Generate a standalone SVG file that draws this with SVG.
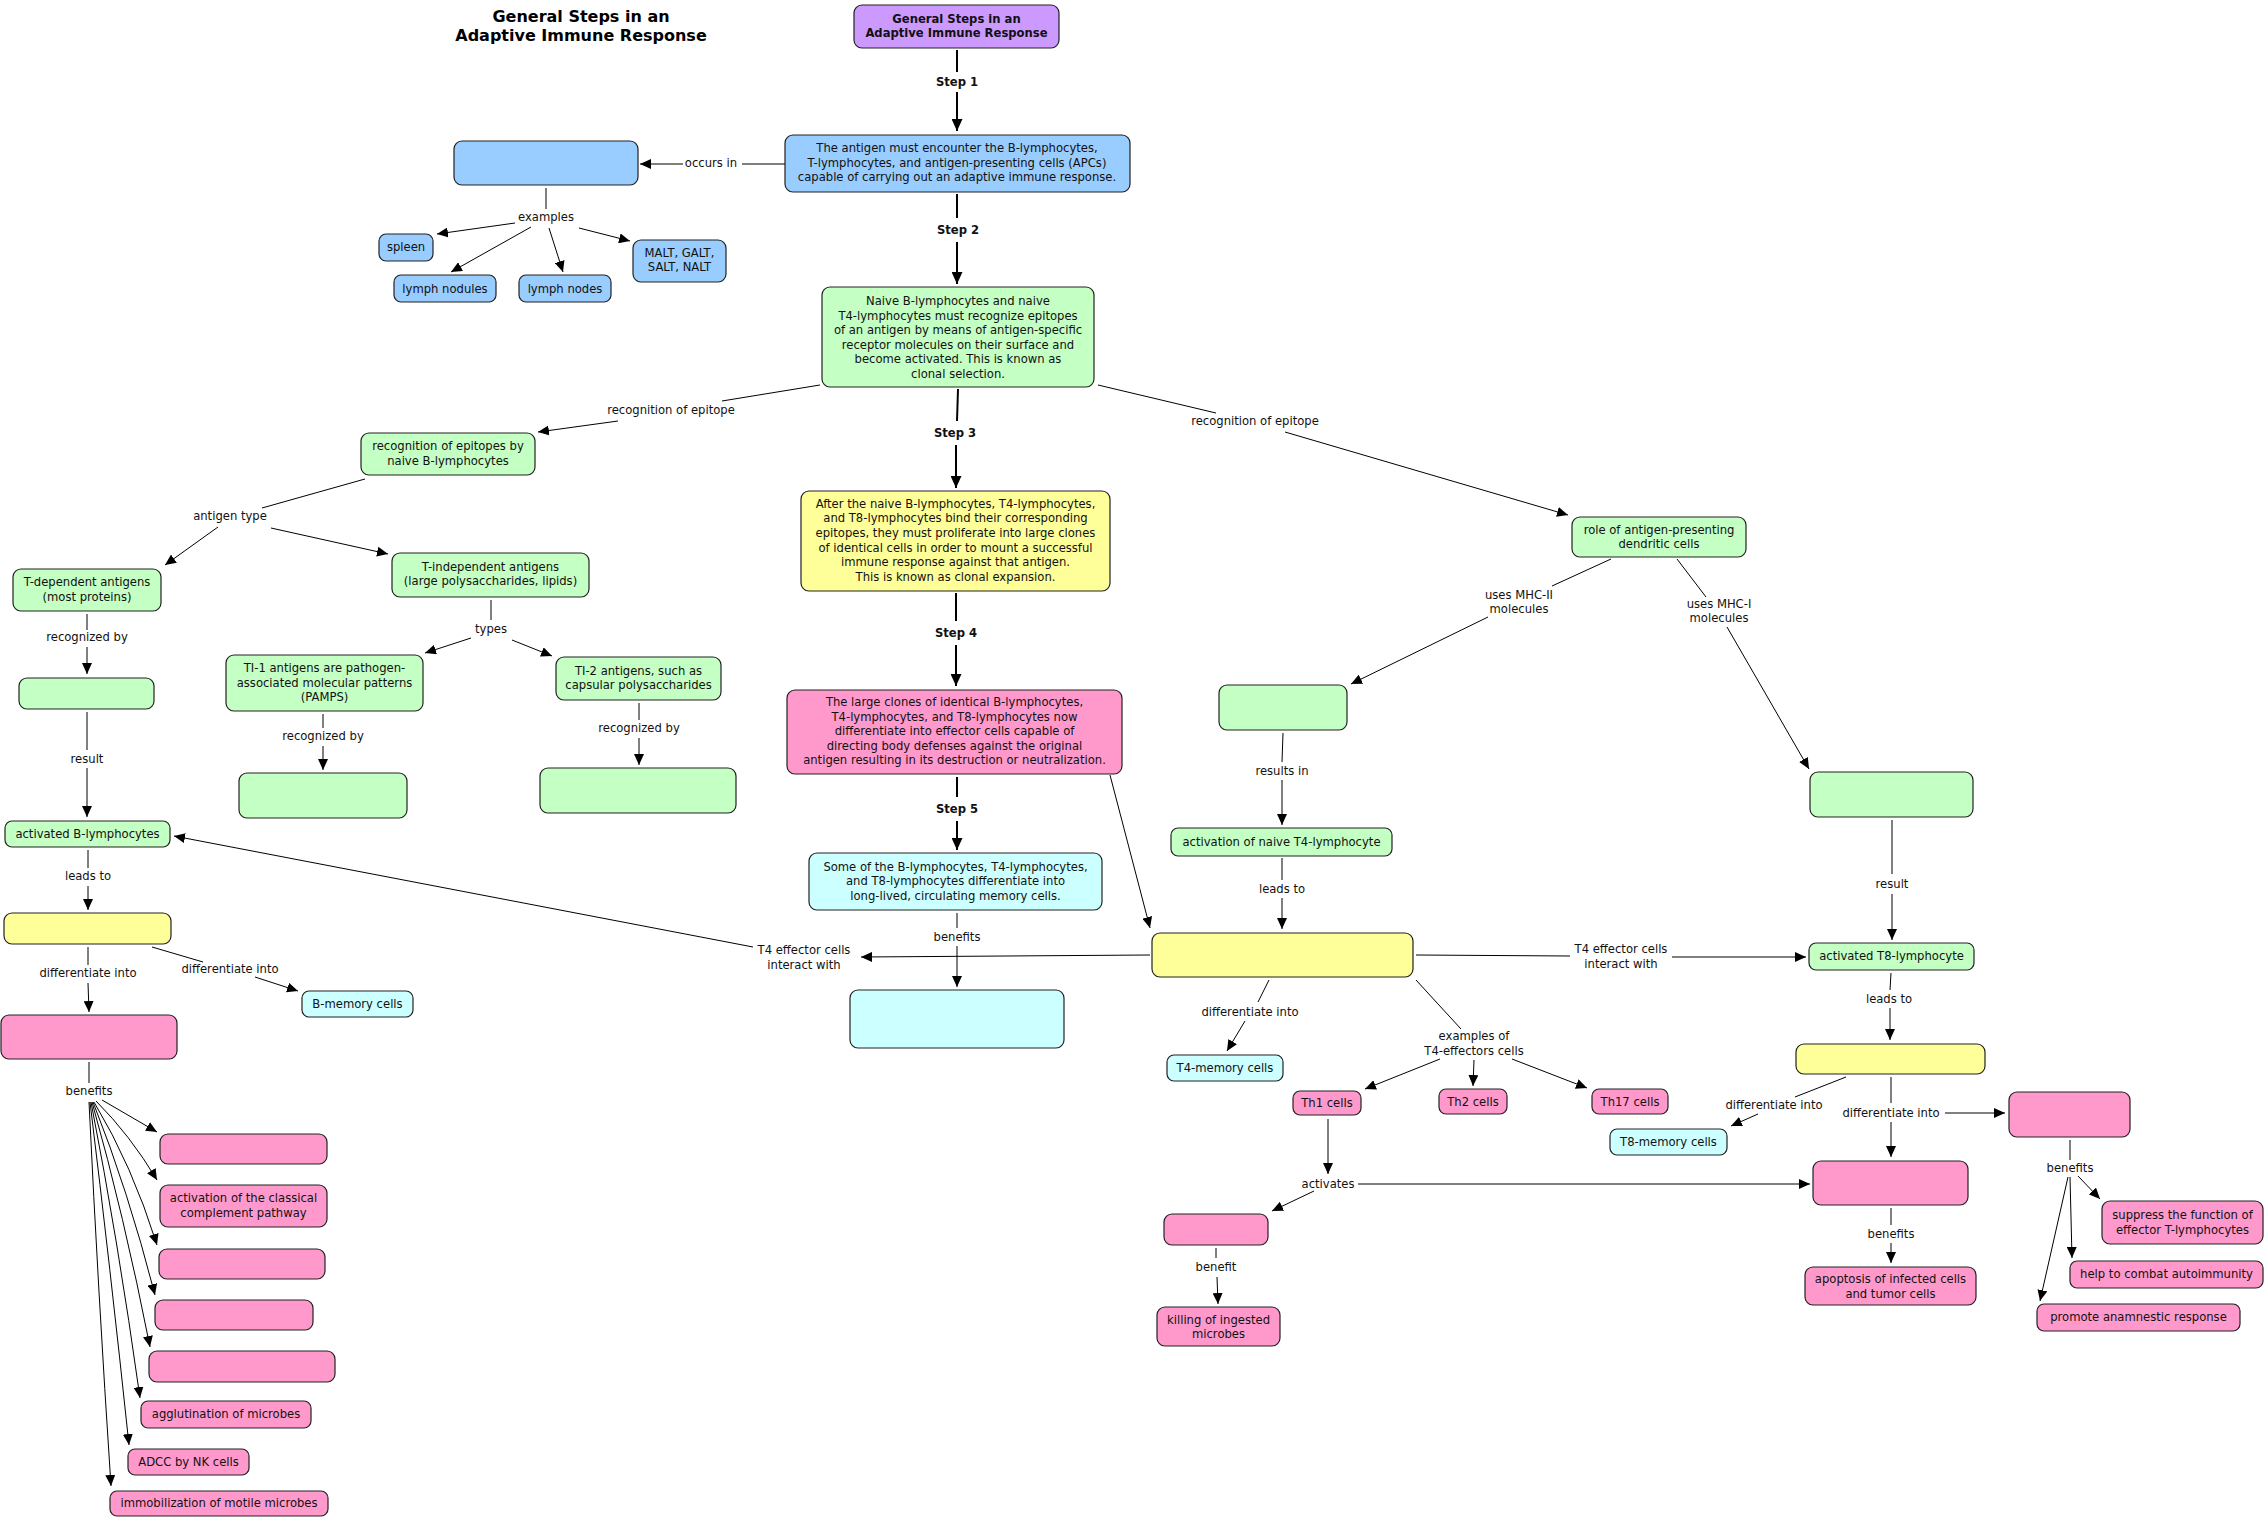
<svg xmlns="http://www.w3.org/2000/svg" width="2266" height="1518" viewBox="0 0 2266 1518">
<defs>
<style>
text{font-family:"DejaVu Sans",Verdana,sans-serif;font-size:11.6px;fill:#111;text-anchor:middle}
.t{font-size:16px;font-weight:bold;fill:#000}
.b{font-weight:bold}
g rect{stroke:#222;stroke-width:1.2}
.bl{fill:#99CCFF}.gr{fill:#C4FFC4}.ye{fill:#FFFF99}.pk{fill:#FF99CC}.cy{fill:#CCFFFF}.pu{fill:#CC99FF}
.l{stroke:#000;stroke-width:1;fill:none}
.a{marker-end:url(#ah)}
.s{stroke-width:2}
.sa{marker-end:url(#sh)}
</style>
<marker id="ah" viewBox="0 0 11 10" refX="11" refY="5" markerWidth="11" markerHeight="10" orient="auto" markerUnits="userSpaceOnUse"><path d="M0,0 L11,5 L0,10 z" fill="#000"/></marker>
<marker id="sh" viewBox="0 0 12 11" refX="12" refY="5.5" markerWidth="12" markerHeight="11" orient="auto" markerUnits="userSpaceOnUse"><path d="M0,0 L12,5.5 L0,11 z" fill="#000"/></marker>
</defs>
<rect x="0" y="0" width="2266" height="1518" fill="#fff"/>

<g id="title"><text class="t" x="581" y="22">General Steps in an</text><text class="t" x="581" y="41">Adaptive Immune Response</text></g>

<g id="connectors">
<!-- steps -->
<line class="l s" x1="957" y1="50" x2="957" y2="72"/><line class="l s sa" x1="957" y1="92" x2="957" y2="131"/>
<line class="l s" x1="957" y1="194" x2="957" y2="218"/><line class="l s sa" x1="957" y1="242" x2="957" y2="284"/>
<line class="l s" x1="958" y1="389" x2="957" y2="421"/><line class="l s sa" x1="956" y1="445" x2="956" y2="488"/>
<line class="l s" x1="956" y1="593" x2="956" y2="621"/><line class="l s sa" x1="956" y1="645" x2="956" y2="686"/>
<line class="l s" x1="957" y1="777" x2="957" y2="797"/><line class="l s sa" x1="957" y1="821" x2="957" y2="850"/>
<!-- occurs in / examples -->
<line class="l" x1="785" y1="164" x2="742" y2="164"/><line class="l a" x1="683" y1="164" x2="640" y2="164"/>
<line class="l" x1="546" y1="188" x2="546" y2="209"/>
<line class="l a" x1="515" y1="223" x2="437" y2="234"/>
<line class="l a" x1="531" y1="227" x2="451" y2="272"/>
<line class="l a" x1="549" y1="228" x2="563" y2="272"/>
<line class="l a" x1="579" y1="228" x2="630" y2="241"/>
<!-- recognition of epitope -->
<line class="l" x1="820" y1="385" x2="722" y2="401"/><line class="l a" x1="618" y1="421" x2="538" y2="432"/>
<line class="l" x1="1098" y1="385" x2="1216" y2="413"/><line class="l a" x1="1285" y1="432" x2="1568" y2="515"/>
<!-- MHC -->
<line class="l" x1="1611" y1="559" x2="1552" y2="586"/><line class="l a" x1="1488" y1="617" x2="1351" y2="684"/>
<line class="l" x1="1677" y1="559" x2="1706" y2="597"/><line class="l a" x1="1727" y1="627" x2="1809" y2="769"/>
<line class="l" x1="1283" y1="733" x2="1282" y2="762"/><line class="l a" x1="1282" y1="780" x2="1282" y2="825"/>
<line class="l" x1="1282" y1="858" x2="1282" y2="880"/><line class="l a" x1="1282" y1="898" x2="1282" y2="929"/>
<line class="l a" x1="1110" y1="775" x2="1150" y2="928"/>
<!-- T4 effector interact -->
<line class="l a" x1="1150" y1="955" x2="861" y2="957"/>
<line class="l a" x1="753" y1="947" x2="174" y2="836"/>
<line class="l" x1="1416" y1="955" x2="1570" y2="956"/><line class="l a" x1="1672" y1="957" x2="1806" y2="957"/>
<!-- memory benefits -->
<line class="l" x1="957" y1="913" x2="957" y2="928"/><line class="l a" x1="957" y1="946" x2="957" y2="987"/>
<!-- T4 effector outputs -->
<line class="l" x1="1269" y1="980" x2="1258" y2="1002"/><line class="l a" x1="1245" y1="1021" x2="1227" y2="1051"/>
<line class="l" x1="1416" y1="980" x2="1461" y2="1029"/>
<line class="l a" x1="1440" y1="1059" x2="1365" y2="1089"/>
<line class="l a" x1="1474" y1="1060" x2="1473" y2="1086"/>
<line class="l a" x1="1512" y1="1059" x2="1587" y2="1088"/>
<line class="l a" x1="1328" y1="1119" x2="1328" y2="1174"/>
<line class="l a" x1="1358" y1="1184" x2="1810" y2="1184"/>
<line class="l a" x1="1314" y1="1191" x2="1272" y2="1211"/>
<line class="l" x1="1216" y1="1248" x2="1216" y2="1258"/><line class="l a" x1="1217" y1="1277" x2="1218" y2="1304"/>
<!-- T8 -->
<line class="l" x1="1892" y1="820" x2="1892" y2="874"/><line class="l a" x1="1892" y1="894" x2="1892" y2="940"/>
<line class="l" x1="1891" y1="973" x2="1890" y2="990"/><line class="l a" x1="1890" y1="1008" x2="1890" y2="1040"/>
<line class="l" x1="1846" y1="1077" x2="1795" y2="1097"/><line class="l a" x1="1758" y1="1114" x2="1731" y2="1126"/>
<line class="l" x1="1891" y1="1077" x2="1891" y2="1103"/><line class="l a" x1="1891" y1="1122" x2="1891" y2="1157"/>
<line class="l a" x1="1945" y1="1113" x2="2005" y2="1113"/>
<line class="l" x1="1891" y1="1208" x2="1891" y2="1225"/><line class="l a" x1="1891" y1="1243" x2="1891" y2="1263"/>
<line class="l" x1="2070" y1="1140" x2="2070" y2="1160"/>
<line class="l a" x1="2078" y1="1176" x2="2100" y2="1199"/>
<line class="l a" x1="2070" y1="1177" x2="2072" y2="1258"/>
<line class="l a" x1="2068" y1="1177" x2="2040" y2="1301"/>
<!-- left branch -->
<line class="l" x1="365" y1="479" x2="262" y2="508"/>
<line class="l a" x1="218" y1="527" x2="165" y2="565"/>
<line class="l a" x1="271" y1="528" x2="388" y2="554"/>
<line class="l" x1="87" y1="614" x2="87" y2="630"/><line class="l a" x1="87" y1="647" x2="87" y2="674"/>
<line class="l" x1="87" y1="712" x2="87" y2="750"/><line class="l a" x1="87" y1="768" x2="87" y2="817"/>
<line class="l" x1="491" y1="600" x2="491" y2="620"/>
<line class="l a" x1="471" y1="638" x2="425" y2="653"/>
<line class="l a" x1="512" y1="640" x2="552" y2="656"/>
<line class="l" x1="323" y1="714" x2="323" y2="728"/><line class="l a" x1="323" y1="746" x2="323" y2="770"/>
<line class="l" x1="639" y1="703" x2="639" y2="720"/><line class="l a" x1="639" y1="738" x2="639" y2="765"/>
<line class="l" x1="88" y1="850" x2="88" y2="868"/><line class="l a" x1="88" y1="886" x2="88" y2="910"/>
<line class="l" x1="88" y1="947" x2="88" y2="965"/><line class="l a" x1="88" y1="983" x2="89" y2="1012"/>
<line class="l" x1="152" y1="947" x2="203" y2="962"/><line class="l a" x1="255" y1="977" x2="298" y2="991"/>
<line class="l" x1="89" y1="1062" x2="89" y2="1083"/>
<line class="l a" x1="102" y1="1100" x2="157" y2="1132"/>
<path class="l a" d="M96,1101 Q130,1135 157,1180"/>
<path class="l a" d="M94,1102 Q132,1165 157,1245"/>
<path class="l a" d="M93,1102 Q128,1190 155,1295"/>
<path class="l a" d="M92,1102 Q124,1215 150,1347"/>
<path class="l a" d="M91,1102 Q118,1240 140,1398"/>
<path class="l a" d="M90,1102 Q110,1265 129,1445"/>
<path class="l a" d="M89,1102 Q98,1290 111,1486"/>
<!-- link labels -->
<text class="b" x="957" y="86">Step 1</text>
<text class="b" x="958" y="234">Step 2</text>
<text class="b" x="955" y="437">Step 3</text>
<text class="b" x="956" y="637">Step 4</text>
<text class="b" x="957" y="813">Step 5</text>
<text x="711" y="167">occurs in</text>
<text x="546" y="221">examples</text>
<text x="671" y="414">recognition of epitope</text>
<text x="1255" y="425">recognition of epitope</text>
<text x="1519" y="599">uses MHC-II</text><text x="1519" y="613">molecules</text>
<text x="1719" y="608">uses MHC-I</text><text x="1719" y="622">molecules</text>
<text x="1282" y="775">results in</text>
<text x="1282" y="893">leads to</text>
<text x="804" y="954">T4 effector cells</text><text x="804" y="969">interact with</text>
<text x="1621" y="953">T4 effector cells</text><text x="1621" y="968">interact with</text>
<text x="957" y="941">benefits</text>
<text x="1250" y="1016">differentiate into</text>
<text x="1474" y="1040">examples of</text><text x="1474" y="1055">T4-effectors cells</text>
<text x="1328" y="1188">activates</text>
<text x="1216" y="1271">benefit</text>
<text x="1892" y="888">result</text>
<text x="1889" y="1003">leads to</text>
<text x="1774" y="1109">differentiate into</text>
<text x="1891" y="1117">differentiate into</text>
<text x="1891" y="1238">benefits</text>
<text x="2070" y="1172">benefits</text>
<text x="230" y="520">antigen type</text>
<text x="87" y="641">recognized by</text>
<text x="87" y="763">result</text>
<text x="491" y="633">types</text>
<text x="323" y="740">recognized by</text>
<text x="639" y="732">recognized by</text>
<text x="88" y="880">leads to</text>
<text x="88" y="977">differentiate into</text>
<text x="230" y="973">differentiate into</text>
<text x="89" y="1095">benefits</text>
</g>

<g id="n-general"><rect class="pu" x="854" y="5" width="205" height="43" rx="8"/><text class="b" x="956.5" y="23">General Steps in an</text><text class="b" x="956.5" y="37">Adaptive Immune Response</text></g>
<g id="n-step1"><rect class="bl" x="785" y="135" width="345" height="57" rx="8"/><text x="957" y="152">The antigen must encounter the B-lymphocytes,</text><text x="957" y="167">T-lymphocytes, and antigen-presenting cells (APCs)</text><text x="957" y="181">capable of carrying out an adaptive immune response.</text></g>
<g id="n-site"><rect class="bl" x="454" y="141" width="184" height="44" rx="8"/></g>
<g id="n-spleen"><rect class="bl" x="379" y="234" width="54" height="27" rx="7"/><text x="406" y="251">spleen</text></g>
<g id="n-nodules"><rect class="bl" x="394" y="275" width="102" height="27" rx="7"/><text x="445" y="293">lymph nodules</text></g>
<g id="n-nodes"><rect class="bl" x="519" y="275" width="92" height="27" rx="7"/><text x="565" y="293">lymph nodes</text></g>
<g id="n-malt"><rect class="bl" x="633" y="240" width="93" height="42" rx="8"/><text x="679.5" y="257">MALT, GALT,</text><text x="679.5" y="271">SALT, NALT</text></g>
<g id="n-step2"><rect class="gr" x="822" y="287" width="272" height="100" rx="8"/><text x="958" y="305">Naive B-lymphocytes and naive</text><text x="958" y="320">T4-lymphocytes must recognize epitopes</text><text x="958" y="334">of an antigen by means of antigen-specific</text><text x="958" y="349">receptor molecules on their surface and</text><text x="958" y="363">become activated. This is known as</text><text x="958" y="378">clonal selection.</text></g>
<g id="n-recogB"><rect class="gr" x="361" y="433" width="174" height="42" rx="8"/><text x="448" y="450">recognition of epitopes by</text><text x="448" y="465">naive B-lymphocytes</text></g>
<g id="n-role"><rect class="gr" x="1572" y="517" width="174" height="40" rx="8"/><text x="1659" y="534">role of antigen-presenting</text><text x="1659" y="548">dendritic cells</text></g>
<g id="n-step3"><rect class="ye" x="801" y="491" width="309" height="100" rx="8"/><text x="955.5" y="508">After the naive B-lymphocytes, T4-lymphocytes,</text><text x="955.5" y="522">and T8-lymphocytes bind their corresponding</text><text x="955.5" y="537">epitopes, they must proliferate into large clones</text><text x="955.5" y="552">of identical cells in order to mount a successful</text><text x="955.5" y="566">immune response against that antigen.</text><text x="955.5" y="581">This is known as clonal expansion.</text></g>
<g id="n-step4"><rect class="pk" x="787" y="690" width="335" height="84" rx="8"/><text x="954.5" y="706">The large clones of identical B-lymphocytes,</text><text x="954.5" y="721">T4-lymphocytes, and T8-lymphocytes now</text><text x="954.5" y="735">differentiate into effector cells capable of</text><text x="954.5" y="750">directing body defenses against the original</text><text x="954.5" y="764">antigen resulting in its destruction or neutralization.</text></g>
<g id="n-step5"><rect class="cy" x="809" y="853" width="293" height="57" rx="8"/><text x="955.5" y="871">Some of the B-lymphocytes, T4-lymphocytes,</text><text x="955.5" y="885">and T8-lymphocytes differentiate into</text><text x="955.5" y="900">long-lived, circulating memory cells.</text></g>
<g id="n-memben"><rect class="cy" x="850" y="990" width="214" height="58" rx="8"/></g>
<g id="n-t4eff"><rect class="ye" x="1152" y="933" width="261" height="44" rx="8"/></g>
<g id="n-mhc2"><rect class="gr" x="1219" y="685" width="128" height="45" rx="8"/></g>
<g id="n-actT4"><rect class="gr" x="1171" y="828" width="221" height="28" rx="7"/><text x="1281.5" y="846">activation of naive T4-lymphocyte</text></g>
<g id="n-mhc1"><rect class="gr" x="1810" y="772" width="163" height="45" rx="8"/></g>
<g id="n-actT8"><rect class="gr" x="1809" y="943" width="165" height="27" rx="7"/><text x="1891.5" y="960">activated T8-lymphocyte</text></g>
<g id="n-t8eff"><rect class="ye" x="1796" y="1044" width="189" height="30" rx="8"/></g>
<g id="n-t8mem"><rect class="cy" x="1610" y="1129" width="117" height="26" rx="7"/><text x="1668.5" y="1146">T8-memory cells</text></g>
<g id="n-ctl"><rect class="pk" x="1813" y="1161" width="155" height="44" rx="8"/></g>
<g id="n-treg"><rect class="pk" x="2009" y="1092" width="121" height="45" rx="8"/></g>
<g id="n-apop"><rect class="pk" x="1805" y="1267" width="171" height="38" rx="8"/><text x="1890.5" y="1283">apoptosis of infected cells</text><text x="1890.5" y="1298">and tumor cells</text></g>
<g id="n-suppress"><rect class="pk" x="2102" y="1201" width="161" height="43" rx="8"/><text x="2182.5" y="1219">suppress the function of</text><text x="2182.5" y="1234">effector T-lymphocytes</text></g>
<g id="n-help"><rect class="pk" x="2070" y="1261" width="193" height="27" rx="7"/><text x="2166.5" y="1278">help to combat autoimmunity</text></g>
<g id="n-promote"><rect class="pk" x="2037" y="1304" width="203" height="27" rx="7"/><text x="2138.5" y="1321">promote anamnestic response</text></g>
<g id="n-th1"><rect class="pk" x="1293" y="1091" width="68" height="24" rx="7"/><text x="1327" y="1107">Th1 cells</text></g>
<g id="n-th2"><rect class="pk" x="1439" y="1089" width="68" height="25" rx="7"/><text x="1473" y="1106">Th2 cells</text></g>
<g id="n-th17"><rect class="pk" x="1592" y="1089" width="76" height="25" rx="7"/><text x="1630" y="1106">Th17 cells</text></g>
<g id="n-t4mem"><rect class="cy" x="1167" y="1055" width="116" height="26" rx="7"/><text x="1225" y="1072">T4-memory cells</text></g>
<g id="n-macro"><rect class="pk" x="1164" y="1214" width="104" height="31" rx="8"/></g>
<g id="n-killing"><rect class="pk" x="1157" y="1307" width="123" height="39" rx="8"/><text x="1218.5" y="1324">killing of ingested</text><text x="1218.5" y="1338">microbes</text></g>
<g id="n-tdep"><rect class="gr" x="13" y="569" width="148" height="42" rx="8"/><text x="87" y="586">T-dependent antigens</text><text x="87" y="601">(most proteins)</text></g>
<g id="n-tindep"><rect class="gr" x="392" y="553" width="197" height="44" rx="8"/><text x="490.5" y="571">T-independent antigens</text><text x="490.5" y="585">(large polysaccharides, lipids)</text></g>
<g id="n-tdeprec"><rect class="gr" x="19" y="678" width="135" height="31" rx="8"/></g>
<g id="n-actB"><rect class="gr" x="5" y="821" width="165" height="26" rx="7"/><text x="87.5" y="838">activated B-lymphocytes</text></g>
<g id="n-ti1"><rect class="gr" x="226" y="655" width="197" height="56" rx="8"/><text x="324.5" y="672">TI-1 antigens are pathogen-</text><text x="324.5" y="687">associated molecular patterns</text><text x="324.5" y="701">(PAMPS)</text></g>
<g id="n-ti2"><rect class="gr" x="556" y="657" width="165" height="43" rx="8"/><text x="638.5" y="675">TI-2 antigens, such as</text><text x="638.5" y="689">capsular polysaccharides</text></g>
<g id="n-ti1rec"><rect class="gr" x="239" y="773" width="168" height="45" rx="8"/></g>
<g id="n-ti2rec"><rect class="gr" x="540" y="768" width="196" height="45" rx="8"/></g>
<g id="n-bprolif"><rect class="ye" x="4" y="913" width="167" height="31" rx="8"/></g>
<g id="n-plasma"><rect class="pk" x="1" y="1015" width="176" height="44" rx="8"/></g>
<g id="n-bmem"><rect class="cy" x="302" y="991" width="111" height="26" rx="7"/><text x="357.5" y="1008">B-memory cells</text></g>
<g id="n-benA"><rect class="pk" x="160" y="1134" width="167" height="30" rx="8"/></g>
<g id="n-complement"><rect class="pk" x="160" y="1185" width="167" height="42" rx="8"/><text x="243.5" y="1202">activation of the classical</text><text x="243.5" y="1217">complement pathway</text></g>
<g id="n-benC"><rect class="pk" x="159" y="1249" width="166" height="30" rx="8"/></g>
<g id="n-benD"><rect class="pk" x="155" y="1300" width="158" height="30" rx="8"/></g>
<g id="n-benE"><rect class="pk" x="149" y="1351" width="186" height="31" rx="8"/></g>
<g id="n-agglut"><rect class="pk" x="141" y="1401" width="170" height="27" rx="7"/><text x="226" y="1418">agglutination of microbes</text></g>
<g id="n-adcc"><rect class="pk" x="128" y="1449" width="121" height="26" rx="7"/><text x="188.5" y="1466">ADCC by NK cells</text></g>
<g id="n-immob"><rect class="pk" x="110" y="1491" width="218" height="25" rx="7"/><text x="219" y="1507">immobilization of motile microbes</text></g>
</svg>
